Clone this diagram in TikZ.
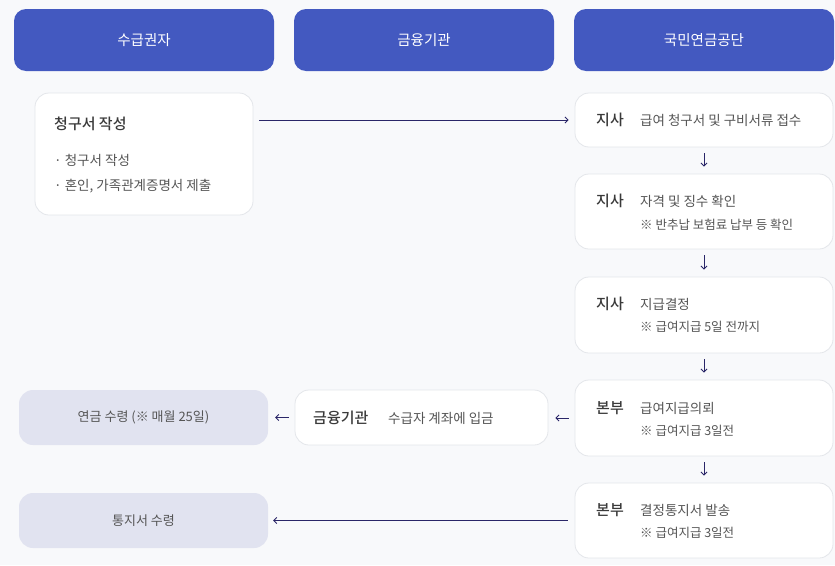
\documentclass[tikz,border=0pt]{standalone}
\usepackage{fontspec}
\setmainfont{Noto Sans CJK KR}
\newfontfamily\medfont{Noto Sans CJK KR Medium}
\usepackage{xcolor}
\usetikzlibrary{positioning,arrows.meta}

\definecolor{pagebg}{HTML}{F8F9FB}
\definecolor{hdblue}{HTML}{4359C0}
\definecolor{cardline}{HTML}{E4E6EA}
\definecolor{grayfill}{HTML}{E1E3F0}
\definecolor{darktxt}{HTML}{3A3A3A}
\definecolor{softtxt}{HTML}{555555}
\definecolor{navy}{HTML}{2A2668}

\tikzset{
	head/.style={fill=hdblue, rounded corners=12pt, minimum width=260pt, minimum height=62pt, text=white, font=\fontsize{14.5}{17}\selectfont},
	card/.style={fill=white, draw=cardline, line width=0.8pt, rounded corners=14pt},
	graycard/.style={fill=grayfill, rounded corners=14pt, minimum width=249pt, minimum height=55pt, text=softtxt, font=\fontsize{13}{15}\selectfont},
	tag/.style={anchor=west, inner sep=0pt, text=darktxt, font=\fontsize{15}{17}\medfont},
	body/.style={anchor=west, inner sep=0pt, text=softtxt, font=\fontsize{13.5}{16}\selectfont},
	note/.style={anchor=west, inner sep=0pt, text=softtxt, font=\fontsize{12.5}{15}\selectfont},
	flow/.style={draw=navy, line width=0.9pt, -{Straight Barb[length=3pt,width=6pt]}}
}

\begin{document}
\begin{tikzpicture}[x=1pt,y=-1pt]
	\fill[pagebg] (0,0) rectangle (835,565);
	\useasboundingbox (0,0) rectangle (835,565);

	% column heads
	\node[head] (colA) at (144,40) {수급권자};
	\node[head] (colB) at (424,40) {금융기관};
	\node[head] (colC) at (704,40) {국민연금공단};

	% claimant
	\node[card, minimum width=218pt, minimum height=122pt] (claim) at (144,154) {};
	\node[tag, font=\fontsize{15}{18}\medfont] (claimT) at (54,124) {청구서 작성};
	\node[body] (claimA) at (54,160) {· 청구서 작성};
	\node[body] (claimB) at (54,186) {· 혼인, 가족관계증명서 제출};

	% pension service
	\node[card, minimum width=258pt, minimum height=54pt] (step1) at (704,120) {};
	\node[tag] (step1T) at (596,120) {지사};
	\node[body] (step1A) at (640,120) {급여 청구서 및 구비서류 접수};

	\node[card, minimum width=258pt, minimum height=75pt] (step2) at (704,211.5) {};
	\node[tag] (step2T) at (596,201) {지사};
	\node[body] (step2A) at (640,201) {자격 및 징수 확인};
	\node[note] (step2B) at (640,225) {※ 반추납 보험료 납부 등 확인};

	\node[card, minimum width=258pt, minimum height=76pt] (step3) at (704,315) {};
	\node[tag] (step3T) at (596,304) {지사};
	\node[body] (step3A) at (640,304) {지급결정};
	\node[note] (step3B) at (640,327) {※ 급여지급 5일 전까지};

	\node[card, minimum width=258pt, minimum height=76pt] (step4) at (704,418) {};
	\node[tag] (step4T) at (596,408) {본부};
	\node[body] (step4A) at (640,408) {급여지급의뢰};
	\node[note] (step4B) at (640,431) {※ 급여지급 3일전};

	\node[card, minimum width=258pt, minimum height=75pt] (step5) at (704,520.5) {};
	\node[tag] (step5T) at (596,510) {본부};
	\node[body] (step5A) at (640,510) {결정통지서 발송};
	\node[note] (step5B) at (640,533) {※ 급여지급 3일전};

	% bank
	\node[card, minimum width=253pt, minimum height=55pt] (bank) at (421.5,417.5) {};
	\node[tag] (bankT) at (313,418) {금융기관};
	\node[body] (bankA) at (388,418) {수급자 계좌에 입금};

	% receipts
	\node[graycard] (pay) at (143.5,417.5) {연금 수령 (※ 매월 25일)};
	\node[graycard] (notice) at (143.5,520.5) {통지서 수령};

	% flows
	\draw[flow, shorten <=6pt, shorten >=6pt] (claim.east |- step1.west) -- (step1.west);
	\foreach \a/\b in {step1/step2, step2/step3, step3/step4, step4/step5}
		\draw[flow, shorten <=6pt, shorten >=7pt] (\a.south) -- (\b.north);
	\draw[flow, shorten <=6pt, shorten >=7pt] (step4.west) -- (step4.west -| bank.east);
	\draw[flow, shorten <=6pt, shorten >=7pt] (bank.west) -- (bank.west -| pay.east);
	\draw[flow, shorten <=7pt, shorten >=5pt] (step5.west) -- (step5.west -| notice.east);
\end{tikzpicture}
\end{document}
